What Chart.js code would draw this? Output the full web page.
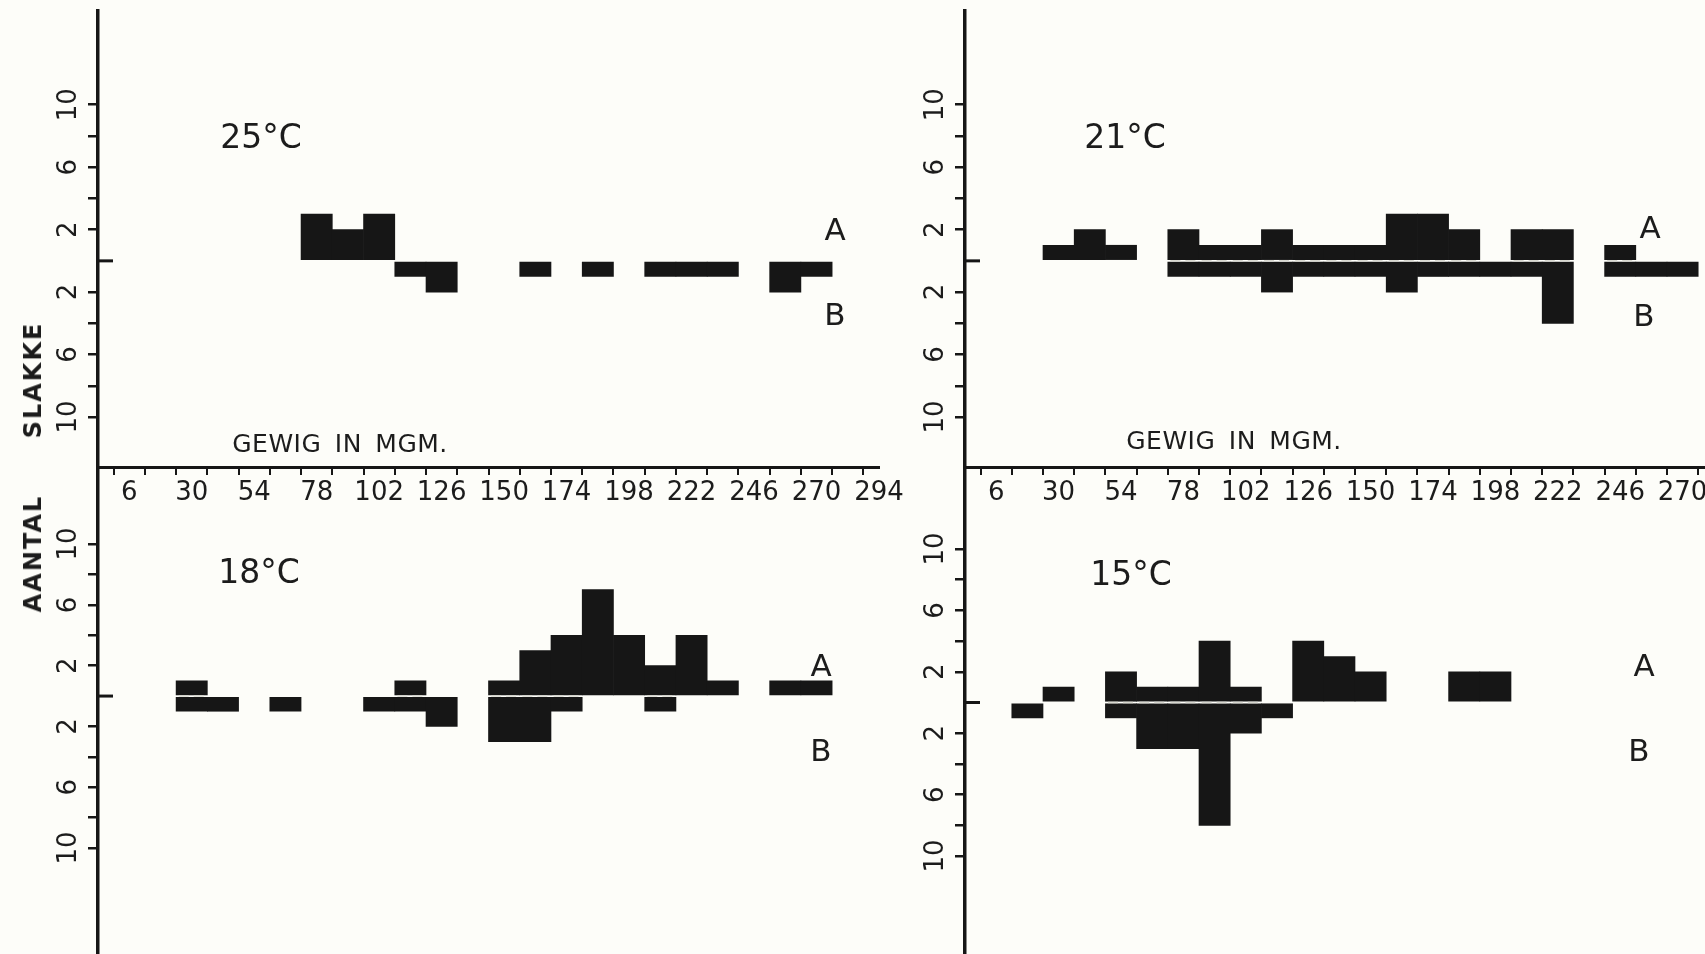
<!DOCTYPE html>
<html lang="nl">
<head>
<meta charset="UTF-8">
<title>Aantal slakke per gewig</title>
<script src="https://cdn.jsdelivr.net/npm/chart.js"></script>
<style>
  html, body { margin: 0; padding: 0; width: 1705px; height: 954px; overflow: hidden; background: #fdfdf9; }
  body { position: relative; font-family: 'DejaVu Sans', sans-serif; color: #1c1c1c; }
  canvas { position: absolute; }
  .lbl { position: absolute; transform: translate(-50%, -50%); white-space: nowrap; }
  .temp { font-size: 33px; }
  .ab { font-size: 31px; }
  .xt { font-size: 25px; letter-spacing: 0.5px; word-spacing: 5px; }
  #ylab { font-size: 24px; font-weight: bold; letter-spacing: 2px; word-spacing: 46px;
          transform: translate(-50%, -50%) rotate(-90deg); }
</style>
</head>
<body>
<canvas id="c25" width="909" height="540" style="left:0;top:0"></canvas>
<canvas id="c21" width="910" height="540" style="left:865px;top:0"></canvas>
<canvas id="c18" width="909" height="487" style="left:0;top:467px"></canvas>
<canvas id="c15" width="910" height="487" style="left:865px;top:467px"></canvas>

<div class="lbl temp" style="left:261px;top:136px">25°C</div>
<div class="lbl temp" style="left:1125px;top:136px">21°C</div>
<div class="lbl temp" style="left:259px;top:571px">18°C</div>
<div class="lbl temp" style="left:1131px;top:573px">15°C</div>

<div class="lbl ab" style="left:835px;top:229px">A</div>
<div class="lbl ab" style="left:835px;top:314px">B</div>
<div class="lbl ab" style="left:1650px;top:227px">A</div>
<div class="lbl ab" style="left:1644px;top:315px">B</div>
<div class="lbl ab" style="left:821px;top:665px">A</div>
<div class="lbl ab" style="left:821px;top:750px">B</div>
<div class="lbl ab" style="left:1644px;top:665px">A</div>
<div class="lbl ab" style="left:1639px;top:750px">B</div>

<div class="lbl xt" style="left:340px;top:443px">GEWIG IN MGM.</div>
<div class="lbl xt" style="left:1234px;top:440px">GEWIG IN MGM.</div>
<div class="lbl" id="ylab" style="left:33px;top:467px">AANTAL SLAKKE</div>

<script>
    // weight classes (bin centres, mgm)
    const bins = [6, 18, 30, 42, 54, 66, 78, 90, 102, 114, 126, 138, 150, 162, 174, 186, 198, 210, 222, 234, 246, 258, 270, 282, 294];
    const xLabels = [6, 30, 54, 78, 102, 126, 150, 174, 198, 222, 246, 270, 294];
    const yTicks = [-10, -8, -6, -4, -2, 0, 2, 4, 6, 8, 10];
    const yLabels = [2, 6, 10];

    // counts per bin, A above the line, B below
    const a25 = [0,0,0,0,0,0,3,2,3,0,0,0,0,0,0,0,0,0,0,0,0,0,0,0,0];
    const b25 = [0,0,0,0,0,0,0,0,0,1,2,0,0,1,0,1,0,1,1,1,0,2,1,0,0];
    const a21 = [0,0,1,2,1,0,2,1,1,2,1,1,1,3,3,2,0,2,2,0,1,0,0,0,0];
    const b21 = [0,0,0,0,0,0,1,1,1,2,1,1,1,2,1,1,1,1,4,0,1,1,1,0,0];
    const a18 = [0,0,1,0,0,0,0,0,0,1,0,0,1,3,4,7,4,2,4,1,0,1,1,0,0];
    const b18 = [0,0,1,1,0,1,0,0,1,1,2,0,3,3,1,0,0,1,0,0,0,0,0,0,0];
    const a15 = [0,0,1,0,2,1,1,4,1,0,4,3,2,0,0,2,2,0,0,0,0,0,0,0,0];
    const b15 = [0,1,0,0,1,3,3,8,2,1,0,0,0,0,0,0,0,0,0,0,0,0,0,0,0];

    const ink = '#161616';
    Chart.defaults.font.family = "'DejaVu Sans', sans-serif";
    Chart.defaults.color = '#1c1c1c';

    // long zero tick and the light dashed line through bars that have A and B
    const zeroMarks = {
        id: 'zeroMarks',
        afterDraw(chart) {
            const {ctx, chartArea, scales} = chart;
            const y0 = scales.y.getPixelForValue(0);
            ctx.save();
            ctx.strokeStyle = ink;
            ctx.lineWidth = 3;
            ctx.beginPath();
            ctx.moveTo(chartArea.left, y0);
            ctx.lineTo(chartArea.left + 15, y0);
            ctx.stroke();
            const [dA, dB] = chart.data.datasets;
            ctx.strokeStyle = '#d8d8d0';
            ctx.lineWidth = 1.5;
            ctx.setLineDash([10, 5]);
            ctx.beginPath();
            dA.data.forEach((p, i) => {
                if (p.y && dB.data[i].y) {
                    ctx.moveTo(scales.x.getPixelForValue(p.x - 5), y0);
                    ctx.lineTo(scales.x.getPixelForValue(p.x + 5), y0);
                }
            });
            ctx.stroke();
            ctx.restore();
        }
    };

    function panel(id, aVals, bVals, yMin, yMax, showX, yWidth) {
        new Chart(document.getElementById(id), {
            type: 'bar',
            data: {
                datasets: [
                    { label: 'A', data: bins.map((x, i) => ({x: x, y: aVals[i] || null})), backgroundColor: ink },
                    { label: 'B', data: bins.map((x, i) => ({x: x, y: bVals[i] ? -bVals[i] : null})), backgroundColor: ink }
                ]
            },
            options: {
                responsive: false,
                animation: false,
                events: [],
                layout: { padding: { top: showX ? 11 : 0, right: 30, left: 0, bottom: 0 } },
                plugins: { legend: { display: false }, tooltip: { enabled: false } },
                datasets: { bar: { barPercentage: 1, categoryPercentage: 1, borderWidth: 0 } },
                scales: {
                    x: {
                        type: 'linear', min: -6, max: 294, offset: false, stacked: true, display: showX,
                        afterBuildTicks: s => { s.ticks = bins.map(v => ({value: v})); },
                        afterFit: s => { if (showX) s.height = 73; s.paddingLeft = 0; s.paddingRight = 0; },
                        grid: { drawOnChartArea: false, tickLength: 8, color: ink, lineWidth: 2 },
                        border: { color: ink, width: 3 },
                        ticks: { font: { size: 26 }, padding: 3, maxRotation: 0, autoSkip: false,
                                 callback: v => xLabels.includes(v) ? String(v) : '' }
                    },
                    y: {
                        min: yMin, max: yMax, stacked: true,
                        afterBuildTicks: s => { s.ticks = yTicks.map(v => ({value: v})); },
                        afterFit: s => { s.width = yWidth; s.paddingTop = 0; s.paddingBottom = 0; },
                        grid: { drawOnChartArea: false, tickLength: 10, lineWidth: 2.5,
                                color: c => (c.tick && c.tick.value === 0) ? 'rgba(0,0,0,0)' : ink },
                        border: { color: ink, width: 3.5 },
                        ticks: { font: { size: 26 }, padding: 2, minRotation: 90, maxRotation: 90,
                                 crossAlign: 'center', autoSkip: false,
                                 callback: v => yLabels.includes(Math.abs(v)) ? String(Math.abs(v)) : '' }
                    }
                }
            },
            plugins: [zeroMarks]
        });
    }

    panel('c25', a25, b25, -13.2, 16.0, true, 98);
    panel('c21', a21, b21, -13.2, 16.0, true, 100);
    panel('c18', a18, b18, -16.97, 15.07, false, 98);
    panel('c15', a15, b15, -16.38, 15.34, false, 100);
</script>
</body>
</html>
